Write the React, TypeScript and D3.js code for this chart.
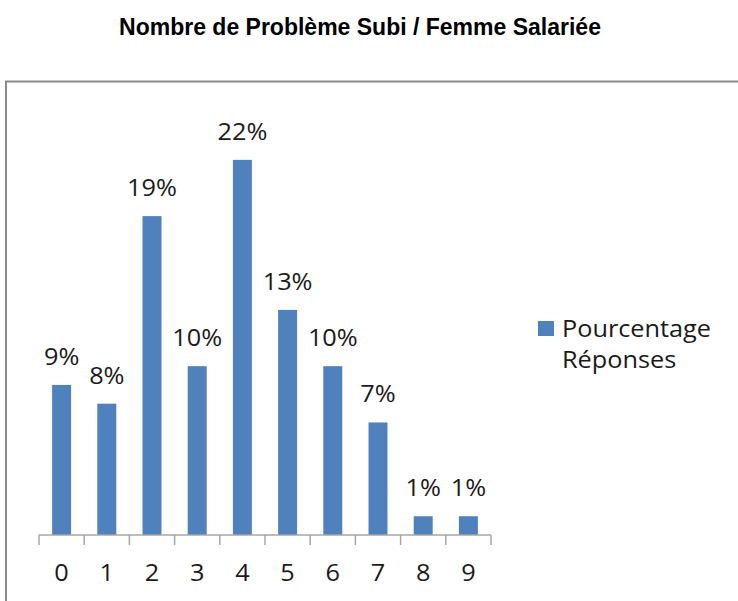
import React, { useEffect, useRef } from 'react';
import * as d3 from 'd3';

const categories = ['0', '1', '2', '3', '4', '5', '6', '7', '8', '9'];
const values = [8.8, 7.7, 18.7, 9.9, 22.0, 13.2, 9.9, 6.6, 1.1, 1.1];
const labels = ['9%', '8%', '19%', '10%', '22%', '13%', '10%', '7%', '1%', '1%'];
const seriesName = ['Pourcentage', 'Réponses'];
const title = 'Nombre de Problème Subi / Femme Salariée';

export default function App() {
  const ref = useRef<SVGSVGElement>(null);

  useEffect(() => {
    const width = 738;
    const height = 601;
    const svg = d3.select(ref.current).attr('width', width).attr('height', height);
    svg.selectAll('*').remove();

    const font = '"Open Sans", sans-serif';
    const stretch = 1.1; // reference text is a bit wider than Open Sans

    svg
      .append('text')
      .attr('x', 360)
      .attr('y', 35)
      .attr('text-anchor', 'middle')
      .attr('font-family', '"Liberation Sans", Arial, sans-serif')
      .attr('font-weight', 'bold')
      .attr('font-size', 23)
      .text(title);

    // chart frame (runs off the right and bottom edges)
    svg
      .append('rect')
      .attr('x', 6)
      .attr('y', 81.5)
      .attr('width', 760)
      .attr('height', 560)
      .attr('fill', 'none')
      .attr('stroke', '#8a8a8a')
      .attr('stroke-width', 2);

    const x = d3.scaleBand().domain(categories).range([39, 491]).paddingInner(0).paddingOuter(0);
    const y = d3.scaleLinear().domain([0, 25]).range([535, 108.7]);
    const barW = x.bandwidth() * 0.42;

    const g = svg.append('g');

    g.selectAll('rect.bar')
      .data(values)
      .enter()
      .append('rect')
      .attr('class', 'bar')
      .attr('x', (d, i) => x(categories[i])! + (x.bandwidth() - barW) / 2)
      .attr('y', (d) => y(d))
      .attr('width', barW)
      .attr('height', (d) => y(0) - y(d))
      .attr('fill', '#4f81bd');

    g.selectAll('text.lbl')
      .data(values)
      .enter()
      .append('text')
      .attr('class', 'lbl')
      .attr(
        'transform',
        (d, i) => `translate(${x(categories[i])! + x.bandwidth() / 2},${y(d) - 20}) scale(${stretch},1)`
      )
      .attr('text-anchor', 'middle')
      .attr('font-family', font)
      .attr('font-size', 23)
      .attr('fill', '#1a1a1a')
      .text((d, i) => labels[i]);

    // axis
    const axis = d3.axisBottom(x).tickSize(0).tickPadding(0);
    const ax = svg.append('g').attr('transform', 'translate(0,535)').call(axis);
    ax.select('.domain').remove();
    ax.selectAll('.tick text')
      .attr('y', 0)
      .attr('dy', 0)
      .attr('transform', `translate(0,46) scale(${stretch},1)`)
      .attr('font-family', font)
      .attr('font-size', 23)
      .attr('fill', '#1a1a1a');

    ax.append('line')
      .attr('x1', 39)
      .attr('x2', 491)
      .attr('y1', 0)
      .attr('y2', 0)
      .attr('stroke', '#a6a6a6')
      .attr('stroke-width', 1.5);

    const edges = categories.map((c) => x(c)!).concat([491]);
    ax.selectAll('line.tk')
      .data(edges)
      .enter()
      .append('line')
      .attr('class', 'tk')
      .attr('x1', (d) => d)
      .attr('x2', (d) => d)
      .attr('y1', 0)
      .attr('y2', 10)
      .attr('stroke', '#a6a6a6')
      .attr('stroke-width', 1.5);

    // legend
    const lg = svg.append('g');
    lg.append('rect')
      .attr('x', 538)
      .attr('y', 321)
      .attr('width', 16)
      .attr('height', 15)
      .attr('fill', '#4f81bd');
    lg.selectAll('text')
      .data(seriesName)
      .enter()
      .append('text')
      .attr('transform', (d, i) => `translate(562,${337 + i * 31}) scale(${stretch},1)`)
      .attr('font-family', font)
      .attr('font-size', 23)
      .attr('fill', '#1a1a1a')
      .text((d) => d);
  }, []);

  return (
    <div style={{ position: 'absolute', left: 0, top: 0 }}>
      <svg ref={ref} style={{ display: 'block' }}></svg>
    </div>
  );
}
